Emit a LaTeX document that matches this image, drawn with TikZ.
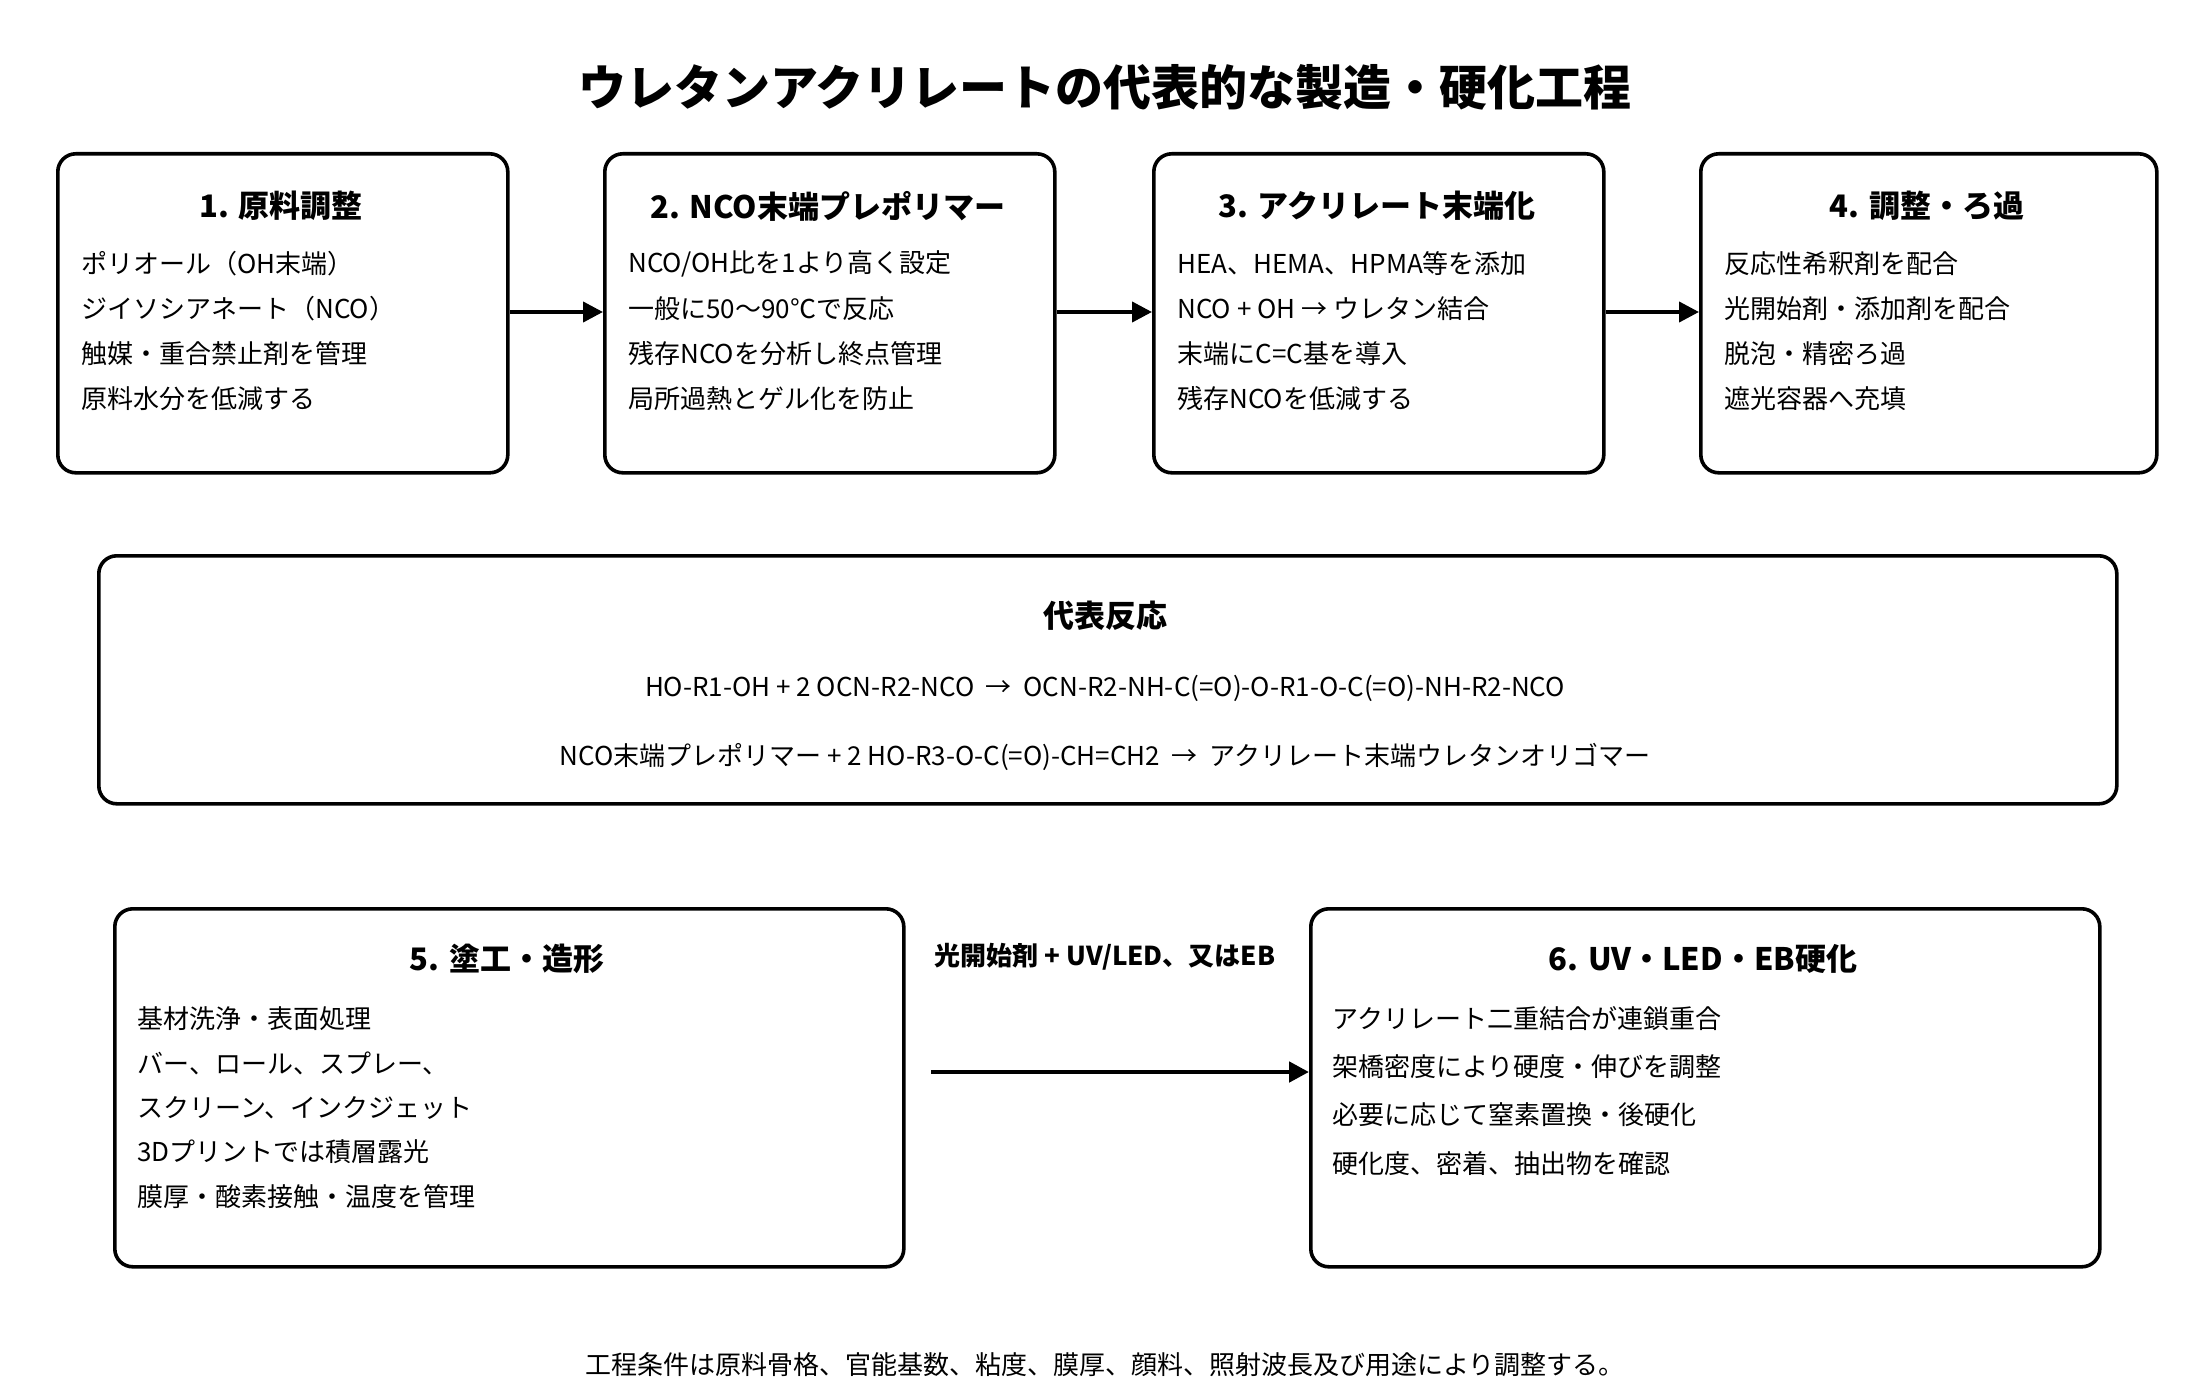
\documentclass[tikz,border=0pt]{standalone}
\usepackage{fontspec}
\setmainfont{Noto Sans CJK JP}
\usetikzlibrary{arrows.meta,positioning}

\tikzset{
  stage/.style={draw,line width=1.8pt,rounded corners=9pt,anchor=north west,inner sep=0pt},
  stagetitle/.style={font=\fontsize{15.5}{18}\selectfont\bfseries},
  item/.style={anchor=west,inner sep=0pt,font=\fontsize{13}{15}\selectfont},
  flow/.style={line width=2pt,-{Triangle[length=10pt,width=10pt]}},
}

\begin{document}
\begin{tikzpicture}[x=0.5pt,y=-0.5pt]
\useasboundingbox (0,0) rectangle (2200,1380);

\node[font=\fontsize{24}{28}\selectfont\bfseries] (title) at (1105,87) {ウレタンアクリレートの代表的な製造・硬化工程};

% top row
\node[stage,minimum width=225pt,minimum height=159.5pt] (s1) at (56,152) {};
\node[stage,minimum width=225pt,minimum height=159.5pt] (s2) at (603,152) {};
\node[stage,minimum width=225pt,minimum height=159.5pt] (s3) at (1152,152) {};
\node[stage,minimum width=228pt,minimum height=159.5pt] (s4) at (1699,152) {};

\node[stagetitle] (t1) at (281,206) {1. 原料調整};
\node[stagetitle] (t2) at (828,206) {2. NCO末端プレポリマー};
\node[stagetitle] (t3) at (1377,206) {3. アクリレート末端化};
\node[stagetitle] (t4) at (1927,206) {4. 調整・ろ過};

\foreach \i/\txt in {1/{ポリオール（OH末端）},2/{ジイソシアネート（NCO）},3/{触媒・重合禁止剤を管理},4/{原料水分を低減する}}
  \node[item] (a\i) at (81,219+45*\i) {\txt};
\foreach \i/\txt in {1/{NCO/OH比を1より高く設定},2/{一般に50～90℃で反応},3/{残存NCOを分析し終点管理},4/{局所過熱とゲル化を防止}}
  \node[item] (b\i) at (628,219+45*\i) {\txt};
\foreach \i/\txt in {1/{HEA、HEMA、HPMA等を添加},2/{NCO + OH → ウレタン結合},3/{末端にC=C基を導入},4/{残存NCOを低減する}}
  \node[item] (c\i) at (1177,219+45*\i) {\txt};
\foreach \i/\txt in {1/{反応性希釈剤を配合},2/{光開始剤・添加剤を配合},3/{脱泡・精密ろ過},4/{遮光容器へ充填}}
  \node[item] (d\i) at (1724,219+45*\i) {\txt};

\draw[flow] (s1.east |- 0,312) -- (s2.west |- 0,312);
\draw[flow] (s2.east |- 0,312) -- (s3.west |- 0,312);
\draw[flow] (s3.east |- 0,312) -- (s4.west |- 0,312);

% reactions
\node[stage,minimum width=1009pt,minimum height=124pt] (rx) at (97,554) {};
\node[stagetitle] (rt) at (1105,616) {代表反応};
\node[font=\fontsize{13}{15}\selectfont] (r1) at (1105,688) {HO-R1-OH + 2 OCN-R2-NCO \ → \ OCN-R2-NH-C(=O)-O-R1-O-C(=O)-NH-R2-NCO};
\node[font=\fontsize{13}{15}\selectfont] (r2) at (1105,757) {NCO末端プレポリマー + 2 HO-R3-O-C(=O)-CH=CH2 \ → \ アクリレート末端ウレタンオリゴマー};

% bottom row
\node[stage,minimum width=394.5pt,minimum height=179pt] (s5) at (113,907) {};
\node[stage,minimum width=394.5pt,minimum height=179pt] (s6) at (1309,907) {};
\node[stagetitle] (t5) at (507,959) {5. 塗工・造形};
\node[stagetitle] (t6) at (1703,959) {6. UV・LED・EB硬化};

\foreach \i/\txt in {1/{基材洗浄・表面処理},2/{バー、ロール、スプレー、},3/{スクリーン、インクジェット},4/{3Dプリントでは積層露光},5/{膜厚・酸素接触・温度を管理}}
  \node[item] (e\i) at (137,974+44.5*\i) {\txt};
\foreach \i/\txt in {1/{アクリレート二重結合が連鎖重合},2/{架橋密度により硬度・伸びを調整},3/{必要に応じて窒素置換・後硬化},4/{硬化度、密着、抽出物を確認}}
  \node[item] (f\i) at (1332,970+48.3*\i) {\txt};

\coordinate (m5) at (931,1072);
\draw[flow,line width=2.4pt] (m5) -- (s6.west |- m5);
\node[font=\fontsize{13}{15}\selectfont\bfseries] (lbl) at (1105,957) {光開始剤 + UV/LED、又はEB};

\node[font=\fontsize{13}{15}\selectfont] (note) at (1105,1365) {工程条件は原料骨格、官能基数、粘度、膜厚、顔料、照射波長及び用途により調整する。};
\end{tikzpicture}
\end{document}
